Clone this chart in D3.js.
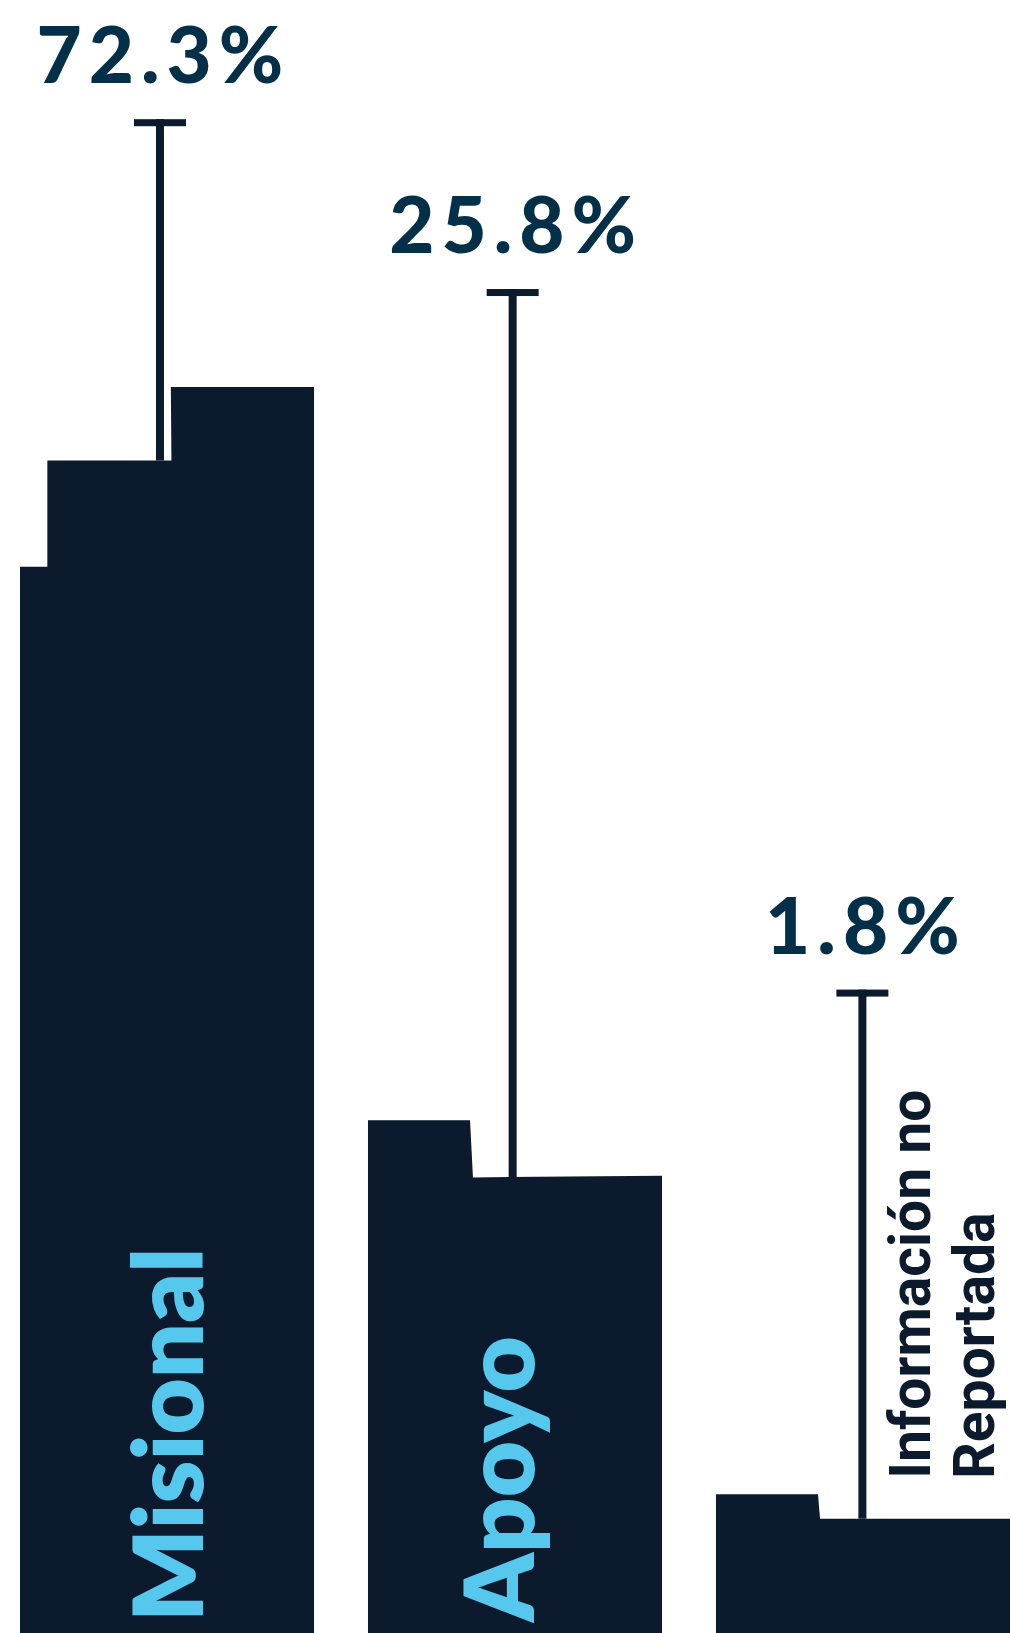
<!DOCTYPE html>
<html>
<head>
<meta charset="utf-8">
<script src="https://cdn.jsdelivr.net/npm/d3@7"></script>
<style>
	html, body { margin: 0; padding: 0; background: #ffffff; }
	svg { display: block; }
</style>
</head>
<body>
<div id="chart"></div>
<script>
// categories and shares (%)
const categories = ['Misional', 'Apoyo', 'Información no Reportada'];
const shares = [72.3, 25.8, 1.8];

// building roof levels and whisker top, on a 0-100 height scale
const roofLeft = [65.3, 31.4, 8.5];
const roofMid = [71.8, 27.9, 7.0];
const roofRight = [76.3, 28.0, 7.0];
const whiskerTop = [92.7, 82.3, 39.4];

let svgWidth = 1011;
let svgHeight = 1633;

let svg = d3.select('#chart').append('svg')
	.attr('width', svgWidth)
	.attr('height', svgHeight);

let x = d3.scaleBand()
	.domain(categories)
	.range([20, 1010])
	.paddingInner(0.155)
	.paddingOuter(0);

let y = d3.scaleLinear()
	.domain([0, 100])
	.range([svgHeight, 0]);

const barColor = '#0b1a2c';
const labelColor = '#032f48';
const innerColor = '#56c8ee';

// roof break points (fraction of bar width) and whisker position
const roofBreaks = [
	[0.093, 0.093, 0.515, 0.513],
	[0.347, 0.357, 0.357, 1],
	[0.347, 0.354, 0.354, 1]
];
const whiskerPos = [0.476, 0.492, 0.498];

let bw = x.bandwidth();

let bars = svg.append('g').classed('bars', true);

categories.forEach((c, i) => {
	let x0 = x(c);
	let b = roofBreaks[i];
	let pts = [
		[x0, y(0)],
		[x0, y(roofLeft[i])],
		[x0 + b[0] * bw, y(roofLeft[i])],
		[x0 + b[1] * bw, y(roofMid[i])],
		[x0 + b[2] * bw, y(roofMid[i])],
		[x0 + b[3] * bw, y(roofRight[i])],
		[x0 + bw, y(roofRight[i])],
		[x0 + bw, y(0)]
	];
	bars.append('path')
		.attr('d', d3.line()(pts) + 'Z')
		.attr('fill', barColor);
});

// whiskers + share labels
let whiskers = svg.append('g').classed('whiskers', true);
categories.forEach((c, i) => {
	let cx = x(c) + whiskerPos[i] * bw;
	whiskers.append('rect')
		.attr('x', cx - 4)
		.attr('y', y(whiskerTop[i]))
		.attr('width', 8)
		.attr('height', y(roofMid[i]) - y(whiskerTop[i]))
		.attr('fill', barColor);
	whiskers.append('rect')
		.attr('x', cx - 26)
		.attr('y', y(whiskerTop[i]))
		.attr('width', 52)
		.attr('height', 7)
		.attr('fill', barColor);

	svg.append('text')
		.attr('x', cx + 3.5)
		.attr('y', y(whiskerTop[i]) - 36)
		.attr('text-anchor', 'middle')
		.attr('fill', labelColor)
		.attr('font-family', 'Lato, sans-serif')
		.attr('font-weight', 900)
		.attr('font-size', '78px')
		.attr('letter-spacing', '7px')
		.text(d3.format('.1f')(shares[i]) + '%');
});

// category names
const innerShift = [0.622, 0.565];
categories.slice(0, 2).forEach((c, i) => {
	let tx = x(c) + innerShift[i] * bw;
	let ty = svgHeight - 11;
	svg.append('text')
		.attr('transform', `translate(${tx}, ${ty}) rotate(-90)`)
		.attr('fill', innerColor)
		.attr('font-family', 'Lato, sans-serif')
		.attr('font-weight', 800)
		.attr('font-size', '97px')
		.text(c);
});

let last = categories[2];
let lx = x(last) + whiskerPos[2] * bw + 68;
let ly = y(roofMid[2]) - 40;
let side = svg.append('text')
	.attr('transform', `translate(${lx}, ${ly}) rotate(-90)`)
	.attr('fill', barColor)
	.attr('font-family', 'Roboto, sans-serif')
	.attr('font-weight', 700)
	.attr('font-size', '57px');
side.append('tspan').attr('x', 0).attr('dy', 0).text('Información no');
side.append('tspan').attr('x', 0).attr('dy', 64).text('Reportada');
</script>
</body>
</html>
